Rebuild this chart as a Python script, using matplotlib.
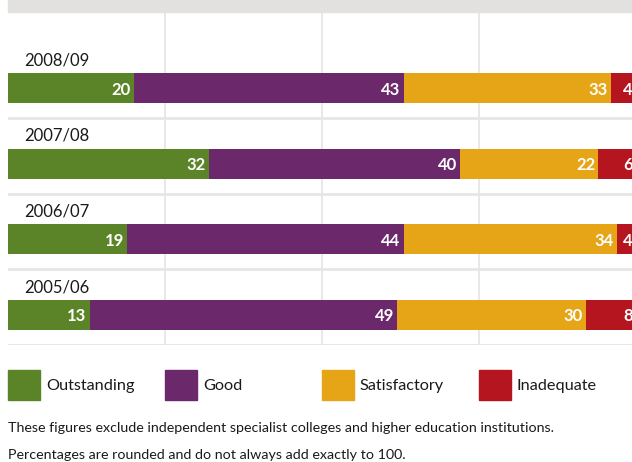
import matplotlib.pyplot as plt
from matplotlib.patches import Rectangle
from matplotlib.transforms import blended_transform_factory

years = ['2008/09', '2007/08', '2006/07', '2005/06']
categories = ['Outstanding', 'Good', 'Satisfactory', 'Inadequate']
outstanding = [20, 32, 19, 13]
good = [43, 40, 44, 49]
satisfactory = [33, 22, 34, 30]
inadequate = [4, 6, 4, 8]
colors = ['#5b8428', '#6b286a', '#e6a516', '#b4151f']

notes = ['These figures exclude independent specialist colleges and higher education institutions.',
         'Percentages are rounded and do not always add exactly to 100.']

plt.rcParams['font.family'] = ['Lato', 'DejaVu Sans']

W, H = 632, 462
fig = plt.figure(figsize=(W / 100, H / 100), dpi=100)

# plot area in pixels: x 8..632, y 12..345 (from top)
ax = fig.add_axes([8 / W, 1 - 345 / H, 624 / W, 333 / H])
ax.set_xlim(0, 624 / 6.28)
ax.set_ylim(3 + 0.397, -1.007)
ax.axis('off')

# grey band on top
fig.patches.append(Rectangle((8 / W, 1 - 12 / H), 624 / W, 12 / H,
                             transform=fig.transFigure, color='#e2e1e0', zorder=0))

grid_c = '#e6e6e6'
for gx in [25, 50, 75]:
    ax.axvline(gx, color=grid_c, lw=1.3, zorder=0)
for i in range(len(years)):
    ax.axhline(i + 0.397, color=grid_c, lw=2, zorder=0)

series = [outstanding, good, satisfactory, inadequate]
bh = 0.397
left = [0] * len(years)
for vals, col in zip(series, colors):
    ax.barh(range(len(years)), vals, left=left, height=bh, color=col, zorder=2)
    for i, v in enumerate(vals):
        # rounded totals can pass 100, keep the label on the 100 mark
        end = min(left[i] + v, 100)
        ax.text(end - 0.5, i + 0.02, str(v), ha='right', va='center', color='white',
                fontsize=12, fontweight='bold', zorder=3, clip_on=True)
    left = [l + v for l, v in zip(left, vals)]

for i, y in enumerate(years):
    ax.text(2.5, i - 0.37, y, ha='left', va='center', fontsize=12, color='#1a1a1a')

# legend
tr = blended_transform_factory(ax.transData, fig.transFigure)
for k, (cat, col) in enumerate(zip(categories, colors)):
    x0 = k * 25
    fig.patches.append(Rectangle((x0, 1 - 400 / H), 32 / 6.28, 30 / H,
                                 transform=tr, color=col))
    fig.text(x0 + 38 / 6.28, 1 - 386 / H, cat, transform=tr, ha='left', va='center',
             fontsize=11.7, color='#1a1a1a')

fig.text(8 / W, 1 - 428 / H, notes[0], ha='left', va='center', fontsize=10.3, color='#1a1a1a')
fig.text(8 / W, 1 - 455 / H, notes[1], ha='left', va='center', fontsize=10.3, color='#1a1a1a')

fig.savefig('out.png', dpi=100)
